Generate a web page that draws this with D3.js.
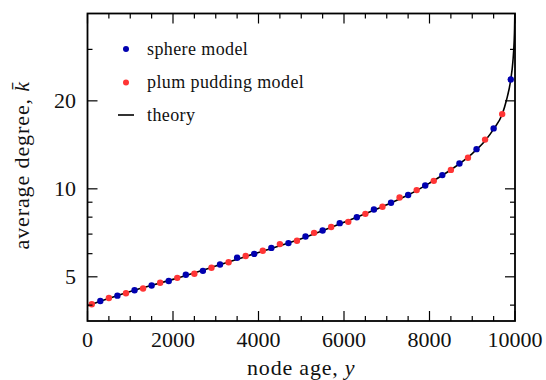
<!DOCTYPE html>
<html>
<head>
<meta charset="utf-8">
<script src="https://cdn.jsdelivr.net/npm/d3@7"></script>
<style>
  body { margin: 0; background: #fff; }
</style>
</head>
<body>
<div id="chart"></div>
<script>
// DATOS.
const sphereAge = [300, 700, 1100, 1500, 1900, 2300, 2700, 3100, 3500, 3900, 4300, 4700, 5100,
  5500, 5900, 6300, 6700, 7100, 7500, 7900, 8300, 8700, 9100, 9500, 9900];
const sphereK = [4.13, 4.31, 4.50, 4.67, 4.84, 5.08, 5.24, 5.51, 5.81, 5.99, 6.28, 6.52, 6.87,
  7.20, 7.63, 7.99, 8.50, 8.96, 9.52, 10.27, 11.14, 12.21, 13.67, 16.10, 23.67];

const plumAge = [100, 500, 900, 1300, 1700, 2100, 2500, 2900, 3300, 3700, 4100, 4500, 4900,
  5300, 5700, 6100, 6500, 6900, 7300, 7700, 8100, 8500, 8900, 9300, 9700];
const plumK = [4.03, 4.23, 4.39, 4.56, 4.77, 4.96, 5.12, 5.37, 5.61, 5.89, 6.14, 6.47, 6.64,
  7.07, 7.40, 7.71, 8.21, 8.68, 9.34, 9.90, 10.65, 11.61, 12.77, 14.74, 18.02];

const theoryAge = [0, 1000, 2000, 3000, 4000, 5000, 6000, 7000, 7500, 8000, 8500, 9000,
  9300, 9500, 9700, 9800, 9900, 9950, 9980, 9990, 9996];
const theoryK = [3.98, 4.45, 4.90, 5.44, 6.06, 6.75, 7.68, 8.82, 9.52, 10.46, 11.62, 13.2,
  14.6, 16.0, 18.0, 20.1, 23.6, 27.2, 31.9, 35.4, 40];

const xTicks = [0, 2000, 4000, 6000, 8000, 10000];
const yTicks = [5, 10, 20];
const yMinorTicks = [4, 6, 7, 8, 9, 30];

const legendItems = ["sphere model", "plum pudding model", "theory"];

// MAQUETADO.
const width = 546, height = 380;
const mLeft = 87.5, mRight = 515, mTop = 13.5, mBottom = 321;
const blue = "#0000b0", red = "#ff3535";
const serif = "'Liberation Serif', 'Times New Roman', serif";

const svg = d3.select("#chart").append("svg")
  .attr("width", width)
  .attr("height", height)
  .attr("font-family", serif);

const x = d3.scaleLinear().domain([0, 10000]).range([mLeft, mRight]);
const y = d3.scaleLog().domain([3.53, 39.8]).range([mBottom, mTop]);

// curva teorica, recortada al marco
svg.append("clipPath").attr("id", "clip")
  .append("rect")
  .attr("x", mLeft).attr("y", mTop)
  .attr("width", mRight - mLeft).attr("height", mBottom - mTop);

const theory = theoryAge.map((a, i) => [a, theoryK[i]]);
svg.append("path")
  .datum(theory)
  .attr("clip-path", "url(#clip)")
  .attr("fill", "none")
  .attr("stroke", "#000")
  .attr("stroke-width", 1.6)
  .attr("d", d3.line()
    .x(d => x(d[0]))
    .y(d => y(d[1]))
    .curve(d3.curveMonotoneX));

function puntos(ages, ks, color){
  svg.append("g").selectAll("circle")
    .data(ages.map((a, i) => [a, ks[i]])).enter()
    .append("circle")
    .attr("cx", d => x(d[0]))
    .attr("cy", d => y(d[1]))
    .attr("r", 3.2)
    .attr("fill", color);
}
puntos(plumAge, plumK, red);
puntos(sphereAge, sphereK, blue);

// EJES.
const xMinor = d3.range(0, 10001, 500).filter(v => v % 2000 !== 0);

function ejes(){
  const g = svg.append("g")
    .attr("stroke", "#000")
    .attr("stroke-width", 1.2);

  xTicks.forEach(v => {
    g.append("line").attr("x1", x(v)).attr("x2", x(v)).attr("y1", mBottom).attr("y2", mBottom - 10);
    g.append("line").attr("x1", x(v)).attr("x2", x(v)).attr("y1", mTop).attr("y2", mTop + 10);
  });
  xMinor.forEach(v => {
    g.append("line").attr("x1", x(v)).attr("x2", x(v)).attr("y1", mBottom).attr("y2", mBottom - 5);
    g.append("line").attr("x1", x(v)).attr("x2", x(v)).attr("y1", mTop).attr("y2", mTop + 5);
  });
  yTicks.forEach(v => {
    g.append("line").attr("x1", mLeft).attr("x2", mLeft + 10).attr("y1", y(v)).attr("y2", y(v));
    g.append("line").attr("x1", mRight).attr("x2", mRight - 10).attr("y1", y(v)).attr("y2", y(v));
  });
  yMinorTicks.forEach(v => {
    g.append("line").attr("x1", mLeft).attr("x2", mLeft + 5).attr("y1", y(v)).attr("y2", y(v));
    g.append("line").attr("x1", mRight).attr("x2", mRight - 5).attr("y1", y(v)).attr("y2", y(v));
  });

  svg.append("rect")
    .attr("x", mLeft).attr("y", mTop)
    .attr("width", mRight - mLeft).attr("height", mBottom - mTop)
    .attr("fill", "none")
    .attr("stroke", "#000")
    .attr("stroke-width", 1.8);

  svg.append("g").selectAll("text")
    .data(xTicks).enter()
    .append("text")
    .attr("x", d => x(d))
    .attr("y", 347)
    .attr("text-anchor", "middle")
    .attr("font-size", "22px")
    .attr("fill", "#111")
    .text(d => d);

  svg.append("g").selectAll("text")
    .data(yTicks).enter()
    .append("text")
    .attr("x", 76)
    .attr("y", d => y(d) + 7.5)
    .attr("text-anchor", "end")
    .attr("font-size", "22px")
    .attr("fill", "#111")
    .text(d => d);

  const xl = svg.append("text")
    .attr("x", (mLeft + mRight) / 2)
    .attr("y", 375)
    .attr("text-anchor", "middle")
    .attr("font-size", "22px")
    .attr("letter-spacing", "0.8px")
    .attr("fill", "#111");
  xl.append("tspan").text("node age, ");
  xl.append("tspan").attr("font-style", "italic").text("y");

  const yl = svg.append("text")
    .attr("transform", "translate(29," + ((mTop + mBottom) / 2 - 2) + ") rotate(-90)")
    .attr("text-anchor", "middle")
    .attr("font-size", "22px")
    .attr("letter-spacing", "0.9px")
    .attr("fill", "#111");
  yl.append("tspan").text("average degree, ");
  yl.append("tspan").attr("font-style", "italic").text("k\u0304");
}
ejes();

// LEYENDA
function leyenda(){
  const rows = [49, 82.5, 115];
  const g = svg.append("g");
  g.append("circle").attr("cx", 126).attr("cy", rows[0]).attr("r", 3).attr("fill", blue);
  g.append("circle").attr("cx", 126).attr("cy", rows[1]).attr("r", 3).attr("fill", red);
  g.append("line")
    .attr("x1", 118).attr("x2", 134)
    .attr("y1", rows[2]).attr("y2", rows[2])
    .attr("stroke", "#000").attr("stroke-width", 1.6);
  g.selectAll("text")
    .data(legendItems).enter()
    .append("text")
    .attr("x", 147)
    .attr("y", (d, i) => rows[i] + 5.5)
    .attr("font-family", serif)
    .attr("font-size", "18px")
    .attr("letter-spacing", "0.4px")
    .attr("fill", "#111")
    .text(d => d);
}
leyenda();
</script>
</body>
</html>
